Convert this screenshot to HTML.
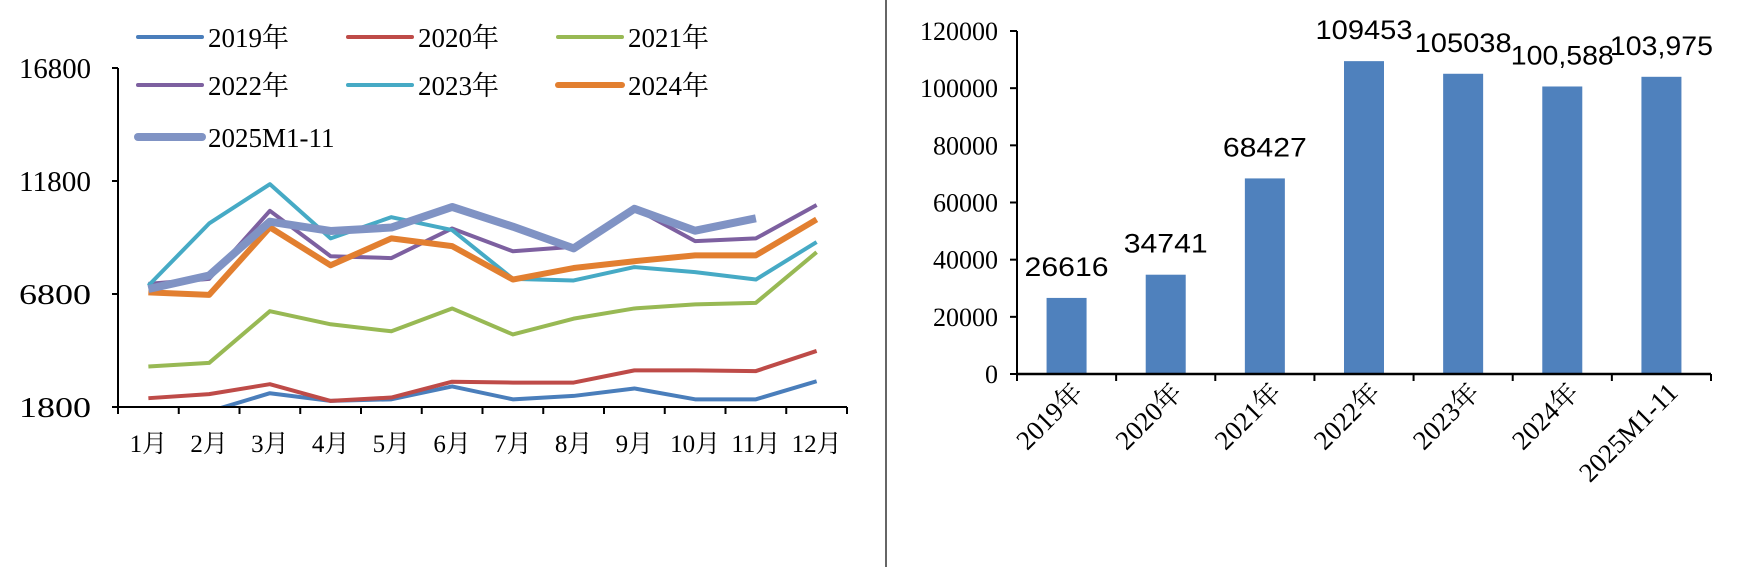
<!DOCTYPE html>
<html><head><meta charset="utf-8"><style>
body{margin:0;background:#fff}
svg{display:block}
</style></head><body>
<svg id="s" width="1750" height="567" xmlns="http://www.w3.org/2000/svg">
<line x1="886" y1="0" x2="886" y2="567" stroke="#333" stroke-width="1.5"/>
<g id="left"></g>
<g id="right"></g>
</svg>
<script>
const months=["1月","2月","3月","4月","5月","6月","7月","8月","9月","10月","11月","12月"];
const yTicksL=[1800,6800,11800,16800];
const seriesNames=["2019年","2020年","2021年","2022年","2023年","2024年","2025M1-11"];
const seriesColors=["#4a7ebb","#be4b48","#98b954","#7d60a0","#46aac5","#e27f30","#8093c4"];
const seriesWidths=[4,4,4,4,4,6,8];
const s2019=[1700,1600,2410,2070,2140,2710,2140,2290,2620,2140,2140,2940];
const s2020=[2190,2370,2810,2070,2220,2920,2880,2880,3420,3420,3390,4280];
const s2021=[3590,3750,6040,5460,5150,6160,5010,5710,6160,6340,6410,8650];
const s2022=[7250,7470,10480,8470,8390,9700,8690,8890,10600,9140,9260,10740];
const s2023=[7170,9920,11660,9260,10200,9630,7470,7400,7990,7770,7440,9100];
const s2024=[6870,6760,9750,8070,9260,8920,7440,7950,8250,8510,8510,10100];
const s2025=[7020,7620,10000,9590,9740,10650,9780,8820,10570,9600,10150];
const years=["2019年","2020年","2021年","2022年","2023年","2024年","2025M1-11"];
const totals=[26616,34741,68427,109453,105038,100588,103975];
const totalLabels=["26616","34741","68427","109453","105038","100,588","103,975"];
const yTicksR=[0,20000,40000,60000,80000,100000,120000];

const NS="http://www.w3.org/2000/svg";
function mk(p,t,a){const e=document.createElementNS(NS,t);for(const k in a)e.setAttribute(k,a[k]);p.appendChild(e);return e;}
const serif='"Liberation Serif","Noto Serif CJK SC",serif';

// LEFT
const L=document.getElementById('left');
const lx0=118,lx1=847,ly0=407,ly1=68;
const xL=i=>lx0+(lx1-lx0)/12*(i+0.5);
const yL=v=>ly0-(v-1800)/15000*(ly0-ly1);
const clip=mk(L,'clipPath',{id:'cl'});mk(clip,'rect',{x:lx0,y:0,width:lx1-lx0+10,height:ly0-1});
let ax=mk(L,'line',{x1:lx0,y1:ly1,x2:lx0,y2:ly0,stroke:'#000','stroke-width':2});

ax=mk(L,'line',{x1:lx0,y1:ly0,x2:lx1,y2:ly0,stroke:'#000','stroke-width':2});

yTicksL.forEach(v=>{
  mk(L,'line',{x1:lx0-6,y1:yL(v),x2:lx0,y2:yL(v),stroke:'#000','stroke-width':2});
  const t=mk(L,'text',{x:91,y:yL(v)+10,'text-anchor':'end','font-family':serif,'font-size':28,'textLength':72,'lengthAdjust':'spacingAndGlyphs'});
  t.textContent=v;
  
  
});
for(let i=0;i<=12;i++){const x=lx0+(lx1-lx0)/12*i;mk(L,'line',{x1:x,y1:ly0,x2:x,y2:ly0+7,stroke:'#000','stroke-width':2});}
months.forEach((m,i)=>{
  const t=mk(L,'text',{x:xL(i),y:452,'text-anchor':'middle','font-family':serif,'font-size':25});
  t.textContent=m;
  
  
});
const allS=[s2019,s2020,s2021,s2022,s2023,s2024,s2025];
allS.forEach((d,k)=>{
  const p=mk(L,'polyline',{points:d.map((v,i)=>xL(i)+','+yL(v)).join(' '),fill:'none',stroke:seriesColors[k],'stroke-width':seriesWidths[k],'stroke-linejoin':'round','clip-path':'url(#cl)'});
  
  
});
const legPos=[[138,37],[348,37],[558,37],[138,85],[348,85],[558,85],[138,137]];
seriesNames.forEach((n,k)=>{
  const [x,y]=legPos[k];
  const g=mk(L,'g',{});
  
  
  mk(g,'line',{x1:x,y1:y,x2:x+64,y2:y,stroke:seriesColors[k],'stroke-width':seriesWidths[k],'stroke-linecap':'round'});
  const t=mk(g,'text',{x:x+70,y:y+10,'font-family':serif,'font-size':27});t.textContent=n;
});

// RIGHT
const R=document.getElementById('right');
const rx0=1017,rx1=1711,ry0=374,ry1=31;
const bw=(rx1-rx0)/7;
const xR=i=>rx0+bw*(i+0.5);
const yR=v=>ry0-v/120000*(ry0-ry1);
yTicksR.forEach(v=>{
  mk(R,'line',{x1:rx0-7,y1:yR(v),x2:rx0,y2:yR(v),stroke:'#000','stroke-width':2});
  const t=mk(R,'text',{x:998,y:yR(v)+9,'text-anchor':'end','font-family':serif,'font-size':26});
  t.textContent=v;
  
  
});
totals.forEach((v,i)=>{
  const b=mk(R,'rect',{x:xR(i)-20,y:yR(v),width:40,height:ry0-yR(v),fill:'#4f81bd'});
  
  
  const s=totalLabels[i];
  const tl=s.length===5?84:(s.length===6?97:103);
  const t=mk(R,'text',{x:xR(i),y:Math.max(30,yR(v)-22),'text-anchor':'middle','font-family':'"Liberation Sans",sans-serif','font-size':27,'textLength':tl,'lengthAdjust':'spacingAndGlyphs'});
  t.textContent=s;
  
  
  const xl=mk(R,'text',{x:0,y:0,'text-anchor':'end','font-family':serif,'font-size':27,transform:`translate(${xR(i)+18},${394}) rotate(-45)`});
  xl.textContent=years[i];
  
  
});
ax=mk(R,'line',{x1:rx0,y1:ry1,x2:rx0,y2:ry0,stroke:'#000','stroke-width':2});

ax=mk(R,'line',{x1:rx0,y1:ry0,x2:rx1,y2:ry0,stroke:'#000','stroke-width':2.5});

for(let i=0;i<=7;i++){const x=rx0+bw*i;mk(R,'line',{x1:x,y1:ry0,x2:x,y2:ry0+7,stroke:'#000','stroke-width':2});}
</script>
</body></html>
